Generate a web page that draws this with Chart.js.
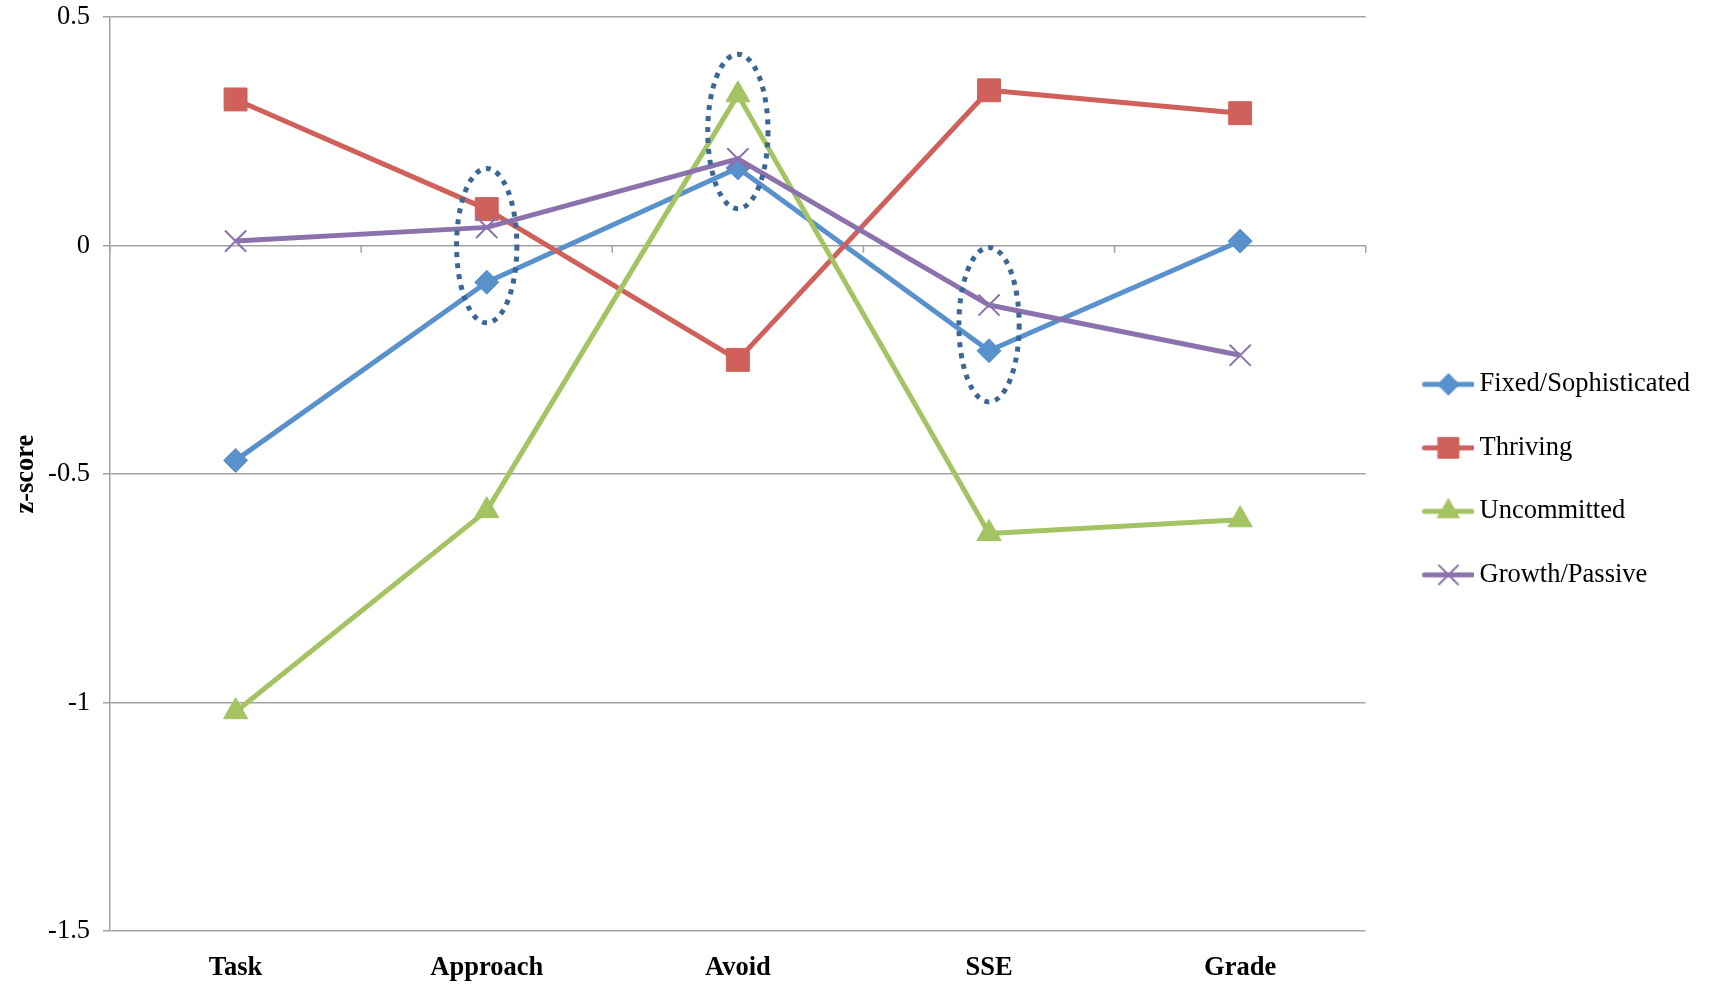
<!DOCTYPE html>
<html>
<head>
<meta charset="utf-8">
<title>z-score profiles</title>
<script src="https://cdn.jsdelivr.net/npm/chart.js@4/dist/chart.umd.min.js"></script>
<style>
  html, body { margin: 0; padding: 0; background: #ffffff; }
  #wrap { width: 1712px; height: 989px; }
</style>
</head>
<body>
<div id="wrap"><canvas id="chart" width="1712" height="989"></canvas></div>
<script>
// Outcome measures along the category axis
const categories = ['Task', 'Approach', 'Avoid', 'SSE', 'Grade'];

// Mean z-score of each profile group
const fixedSophisticated = [-0.47, -0.08, 0.17, -0.23, 0.01];
const thriving = [0.32, 0.08, -0.25, 0.34, 0.29];
const uncommitted = [-1.02, -0.58, 0.33, -0.63, -0.60];
const growthPassive = [0.01, 0.04, 0.19, -0.13, -0.24];

const seriesNames = ['Fixed/Sophisticated', 'Thriving', 'Uncommitted', 'Growth/Passive'];

// Value axis ticks
const yTickValues = [0.5, 0, -0.5, -1, -1.5];
const yTickLabels = ['0.5', '0', '-0.5', '-1', '-1.5'];

// Groups ringed with a dotted outline: category and centre z-score
const ringedCategories = ['Approach', 'Avoid', 'SSE'];
const ringedCentres = [0.0, 0.25, -0.173];

// ---- styling ----
const SERIF = "'Liberation Serif', 'Times New Roman', Times, serif";
const FONT_SIZE = 26.5;
const GRID = '#a3a3a3';
const COLORS = ['#5891cb', '#cf605a', '#a4c362', '#8b72ad'];
const MARKERS = [
  { style: 'rectRot', radius: 12, border: 1 },
  { style: 'rect', radius: 16.2, border: 1 },
  { style: 'triangle', radius: 14, border: 1 },
  { style: 'crossRot', radius: 15, border: 2 }
];
const LINE_WIDTH = 5;
const RING = { color: '#3c6795', width: 5, dash: [5, 6], halfWidthFrac: 0.12, halfHeight: 0.169 };
const LEGEND_NUDGE_Y = 5.5;

const seriesValues = [fixedSophisticated, thriving, uncommitted, growthPassive];

// Legend glyph: a short line with the series marker in its middle
function legendGlyph(i) {
  const padLeft = 27.5, lineLen = 53, h = 36;
  const c = document.createElement('canvas');
  c.width = padLeft + lineLen;
  c.height = h;
  const g = c.getContext('2d');
  const cy = h / 2, cx = padLeft + lineLen / 2;
  g.strokeStyle = COLORS[i];
  g.fillStyle = COLORS[i];
  g.lineCap = 'round';
  g.lineWidth = LINE_WIDTH;
  g.beginPath();
  g.moveTo(padLeft + 2.5, cy);
  g.lineTo(padLeft + lineLen - 2.5, cy);
  g.stroke();
  const m = MARKERS[i];
  if (Chart.helpers && Chart.helpers.drawPoint) {
    g.lineWidth = m.border;
    Chart.helpers.drawPoint(g, { pointStyle: m.style, radius: m.radius * 0.9, rotation: 0, borderWidth: m.border }, cx, cy);
  }
  return c;
}

// Category axis drawn through zero: tick marks at category boundaries
const zeroAxisTicks = {
  id: 'zeroAxisTicks',
  beforeDatasetsDraw(chart) {
    const xs = chart.scales.x, ys = chart.scales.y, ctx = chart.ctx;
    const y0 = ys.getPixelForValue(0);
    const step = xs.getPixelForValue(1) - xs.getPixelForValue(0);
    ctx.save();
    ctx.strokeStyle = GRID;
    ctx.lineWidth = 1.5;
    ctx.beginPath();
    for (let i = 0; i <= categories.length; i++) {
      const px = xs.getPixelForValue(i) - step / 2;
      ctx.moveTo(px, y0);
      ctx.lineTo(px, y0 + 7);
    }
    ctx.stroke();
    ctx.restore();
  }
};

// Dotted ellipses around the highlighted groups
const ringedGroups = {
  id: 'ringedGroups',
  afterDatasetsDraw(chart) {
    const xs = chart.scales.x, ys = chart.scales.y, ctx = chart.ctx;
    const step = xs.getPixelForValue(1) - xs.getPixelForValue(0);
    ctx.save();
    ctx.strokeStyle = RING.color;
    ctx.lineWidth = RING.width;
    ctx.setLineDash(RING.dash);
    ringedCategories.forEach((cat, k) => {
      const cx = xs.getPixelForValue(categories.indexOf(cat));
      const cy = ys.getPixelForValue(ringedCentres[k]);
      const ry = Math.abs(ys.getPixelForValue(ringedCentres[k] + RING.halfHeight) - cy);
      const rx = step * RING.halfWidthFrac;
      ctx.beginPath();
      ctx.ellipse(cx, cy, rx, ry, 0, 0, Math.PI * 2);
      ctx.stroke();
    });
    ctx.restore();
  }
};

// Sit the legend column slightly below the plot's vertical centre
const legendNudge = {
  id: 'legendNudge',
  afterLayout(chart) {
    if (chart.legend) {
      chart.legend.top += LEGEND_NUDGE_Y;
      chart.legend.bottom += LEGEND_NUDGE_Y;
    }
  }
};

const datasets = seriesNames.map((name, i) => ({
  label: name,
  data: seriesValues[i],
  borderColor: COLORS[i],
  backgroundColor: COLORS[i],
  borderWidth: LINE_WIDTH,
  borderJoinStyle: 'round',
  tension: 0,
  pointStyle: MARKERS[i].style,
  pointRadius: MARKERS[i].radius,
  pointHoverRadius: MARKERS[i].radius,
  pointBorderWidth: MARKERS[i].border,
  pointBackgroundColor: COLORS[i],
  pointBorderColor: COLORS[i],
  order: seriesNames.length - 1 - i,
  clip: false
}));

new Chart(document.getElementById('chart'), {
  type: 'line',
  data: { labels: categories, datasets },
  plugins: [zeroAxisTicks, ringedGroups, legendNudge],
  options: {
    responsive: false,
    devicePixelRatio: 1,
    animation: false,
    layout: { padding: { top: 15, right: 12, bottom: 0, left: 0 } },
    plugins: {
      tooltip: { enabled: false },
      title: { display: false },
      legend: {
        position: 'right',
        align: 'center',
        fullSize: false,
        labels: {
          usePointStyle: true,
          pointStyleWidth: 63.5,
          padding: 37,
          color: '#000000',
          font: { family: SERIF, size: FONT_SIZE },
          generateLabels() {
            return seriesNames.map((name, i) => ({
              text: name,
              datasetIndex: i,
              pointStyle: legendGlyph(i),
              fillStyle: COLORS[i],
              strokeStyle: COLORS[i],
              lineWidth: 0,
              fontColor: '#000000',
              hidden: false
            }));
          }
        }
      }
    },
    scales: {
      x: {
        type: 'category',
        offset: true,
        grid: { display: false, drawTicks: false },
        border: { display: false },
        ticks: {
          color: '#000000',
          font: { family: SERIF, size: FONT_SIZE, weight: 'bold' },
          padding: 21,
          maxRotation: 0,
          autoSkip: false
        },
        afterFit(scale) { scale.height = 58; }
      },
      y: {
        type: 'linear',
        min: -1.5,
        max: 0.5,
        afterBuildTicks(scale) { scale.ticks = yTickValues.map(v => ({ value: v })); },
        ticks: {
          color: '#000000',
          font: { family: SERIF, size: FONT_SIZE },
          padding: 13,
          callback(v) {
            const k = yTickValues.indexOf(v);
            return k >= 0 ? yTickLabels[k] : '';
          }
        },
        grid: { color: GRID, lineWidth: 1.5, tickLength: 7, drawTicks: true },
        border: { color: GRID, width: 1.5 },
        title: {
          display: true,
          text: 'z-score',
          color: '#000000',
          font: { family: SERIF, size: FONT_SIZE, weight: 'bold' },
          padding: { top: 10, bottom: 4 }
        },
        afterFit(scale) {
          scale.width = 110;
          scale.paddingTop = 0;
          scale.paddingBottom = 0;
        }
      }
    }
  }
});
</script>
</body>
</html>
